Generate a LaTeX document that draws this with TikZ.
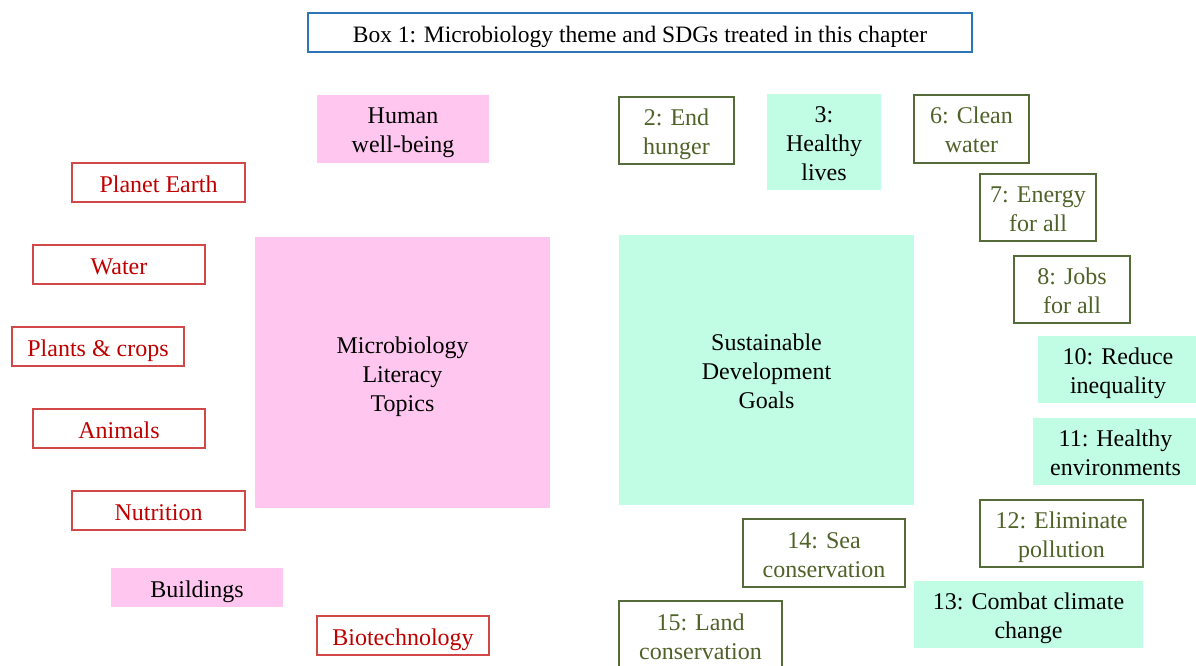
\documentclass[tikz,border=0pt]{standalone}
\usepackage{fontspec}
\setmainfont{Liberation Serif}
\definecolor{pinkf}{HTML}{FFC6EF}
\definecolor{mintf}{HTML}{C1FCE4}
\definecolor{redt}{HTML}{C00000}
\definecolor{redb}{HTML}{D04848}
\definecolor{greent}{HTML}{4F6228}
\definecolor{greenb}{HTML}{556B3A}
\definecolor{blueb}{HTML}{2E75B6}
\begin{document}
\begin{tikzpicture}[x=1pt,y=-1pt,
  base/.style={rectangle, inner sep=0pt, align=center, font=\fontsize{24}{29}\selectfont,
    text height=24pt, text depth=5pt},
  two/.style={text height=53pt, text depth=5pt},
  three/.style={text height=82pt, text depth=5pt},
  redbox/.style={base, draw=redb, line width=1.4pt, text=redt},
  greenbox/.style={base, draw=greenb, line width=1.4pt, text=greent},
  pinkbox/.style={base, fill=pinkf, text=black},
  mintbox/.style={base, fill=mintf, text=black},
  titlebox/.style={base, draw=blueb, line width=1.6pt, text=black, font=\fontsize{23.5}{28}\selectfont,
    text height=24pt, text depth=3pt}]
\useasboundingbox (0,0) rectangle (1196,666);
\fill[white] (0,0) rectangle (1196,666);
% title
\node[titlebox, minimum width=664pt, minimum height=39pt] (title) at (640,32.5) {Box 1: Microbiology theme and SDGs treated in this chapter};
% left side
\node[pinkbox, two, minimum width=172pt, minimum height=68pt] (human) at (403,129) {Human\\well-being};
\node[redbox, minimum width=173pt, minimum height=39pt] (planet) at (158.5,182.5) {Planet Earth};
\node[redbox, minimum width=172pt, minimum height=39pt] (water) at (119,264.5) {Water};
\node[redbox, minimum width=172pt, minimum height=39pt] (plants) at (98,346.5) {Plants \& crops};
\node[redbox, minimum width=172pt, minimum height=39pt] (animals) at (119,428.5) {Animals};
\node[redbox, minimum width=173pt, minimum height=39pt] (nutrition) at (158.5,510.5) {Nutrition};
\node[pinkbox, minimum width=172pt, minimum height=39pt] (buildings) at (197,587.5) {Buildings};
\node[redbox, minimum width=172pt, minimum height=39pt] (biotech) at (403,635.5) {Biotechnology};
\node[pinkbox, three, minimum width=295pt, minimum height=271pt] (micro) at (402.5,372.5) {Microbiology\\Literacy\\Topics};
% right side
\node[mintbox, three, minimum width=295pt, minimum height=270pt] (sdg) at (766.5,370) {Sustainable\\Development\\Goals};
\node[greenbox, two, minimum width=115pt, minimum height=67pt] (g2) at (676.5,130.5) {2: End\\hunger};
\node[mintbox, three, minimum width=114pt, minimum height=96pt] (g3) at (824,142) {3:\\Healthy\\lives};
\node[greenbox, two, minimum width=115pt, minimum height=68pt] (g6) at (971.5,129) {6: Clean\\water};
\node[greenbox, two, minimum width=116pt, minimum height=67pt] (g7) at (1038,207.5) {7: Energy\\for all};
\node[greenbox, two, minimum width=116pt, minimum height=67pt] (g8) at (1072,289.5) {8: Jobs\\for all};
\node[mintbox, two, minimum width=160pt, minimum height=67pt] (g10) at (1118,369.5) {10: Reduce\\inequality};
\node[mintbox, two, minimum width=165pt, minimum height=67pt] (g11) at (1115.5,451.5) {11: Healthy\\environments};
\node[greenbox, two, minimum width=163pt, minimum height=67pt] (g12) at (1061.5,533.5) {12: Eliminate\\pollution};
\node[greenbox, two, minimum width=162pt, minimum height=68pt] (g14) at (824,553) {14: Sea\\conservation};
\node[mintbox, two, minimum width=229pt, minimum height=67pt] (g13) at (1028.5,614.5) {13: Combat climate\\change};
\node[greenbox, two, minimum width=163pt, minimum height=68pt] (g15) at (700.5,635) {15: Land\\conservation};
\end{tikzpicture}
\end{document}
